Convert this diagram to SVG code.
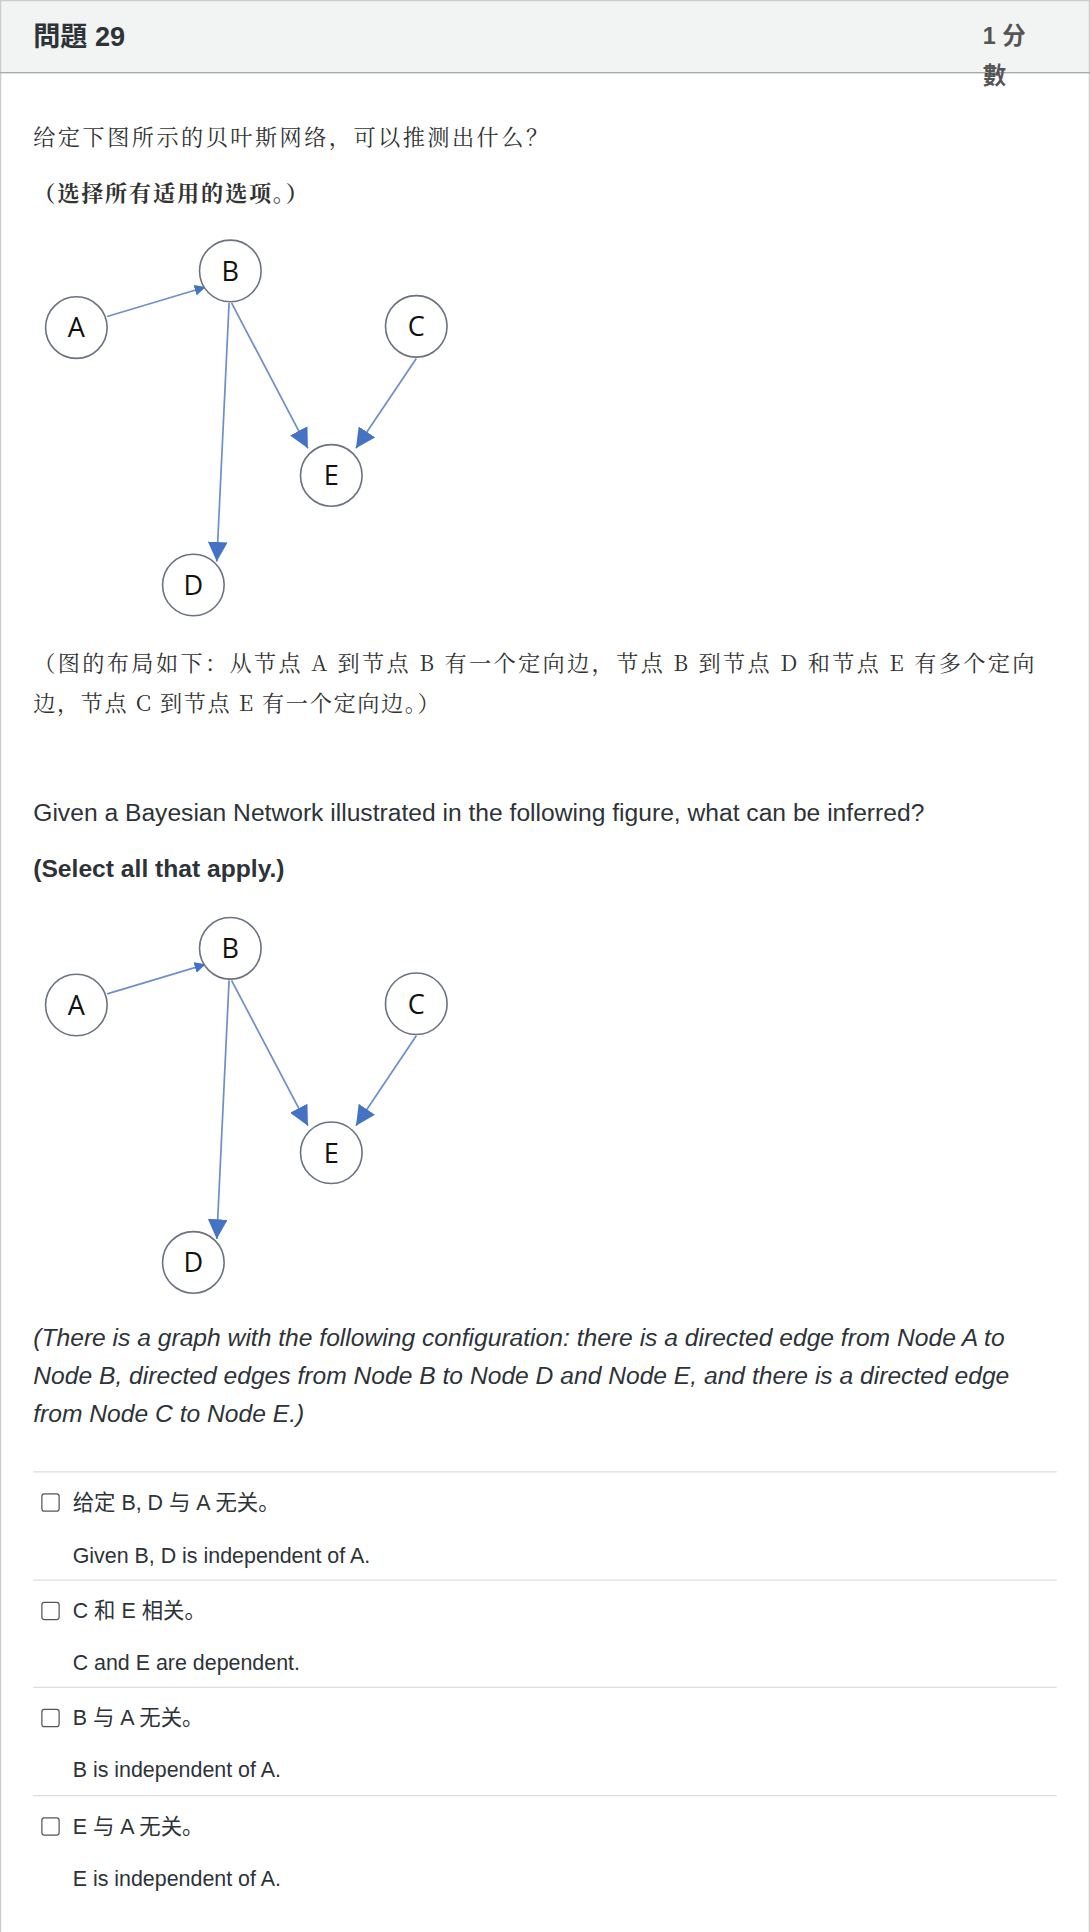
<svg xmlns="http://www.w3.org/2000/svg" width="1090" height="1932" viewBox="0 0 1090 1932">
<style>
.zh{font-family:"Noto Serif CJK SC","Liberation Serif","Noto Sans CJK SC",serif;font-size:18px;fill:#333}
.s{font-family:"Liberation Sans","Noto Sans CJK SC",sans-serif;fill:#2d3338}
.en{font-size:20px}
.opt{font-size:17.4px}
.node circle{fill:#fff;stroke:#6b7280;stroke-width:1.3}
.node text{font-family:"Open Sans","Liberation Sans",sans-serif;font-size:22px;fill:#111;text-anchor:middle}
.edge{stroke:#6f8fc7;stroke-width:1.4;fill:none}
.sep{stroke:#ddd;stroke-width:1}
.cb{fill:#fff;stroke:#555;stroke-width:1}
</style>
<defs>
<marker id="big" viewBox="0 0 10 10" refX="10" refY="5" markerWidth="16" markerHeight="16" markerUnits="userSpaceOnUse" orient="auto"><path d="M0,0L10,5L0,10z" fill="#4472c4"/></marker>
<marker id="sm" viewBox="0 0 10 10" refX="10" refY="5" markerWidth="9" markerHeight="9" markerUnits="userSpaceOnUse" orient="auto"><path d="M0,0L10,5L0,10z" fill="#4472c4"/></marker>
<g id="graph">
<g class="connectors">
<line class="edge" x1="87" y1="257" x2="167" y2="233" marker-end="url(#sm)"/>
<line class="edge" x1="186" y1="246" x2="176" y2="456" marker-end="url(#big)"/>
<line class="edge" x1="188" y1="246" x2="250" y2="364" marker-end="url(#big)"/>
<line class="edge" x1="338" y1="291" x2="289" y2="364" marker-end="url(#big)"/>
</g>
<g class="node"><circle cx="62" cy="266" r="25"/><text x="62" y="274">A</text></g>
<g class="node"><circle cx="187" cy="220" r="25"/><text x="187" y="228">B</text></g>
<g class="node"><circle cx="338" cy="265" r="25"/><text x="338" y="273">C</text></g>
<g class="node"><circle cx="269" cy="386" r="25"/><text x="269" y="394">E</text></g>
<g class="node"><circle cx="157" cy="475" r="25"/><text x="157" y="483">D</text></g>
</g>
</defs>
<g transform="scale(1.2316)">
<rect x="0.5" y="0.5" width="884" height="1570" fill="#fff" stroke="#ccc"/>
<rect x="0.5" y="0.5" width="884" height="58.5" fill="#f2f3f3" stroke="#ccc"/>
<line x1="0" y1="59" x2="885" y2="59" stroke="#aaa"/>
<text class="s" x="27" y="37" font-size="22" font-weight="bold" fill="#2d3338">問題 29</text>
<text class="s" x="798" y="36" font-size="19" font-weight="bold" style="fill:#555">1 分</text>
<text class="s" x="798" y="68" font-size="19" font-weight="bold" style="fill:#555">數</text>
<text class="zh" x="27" y="118" textLength="418" lengthAdjust="spacing">给定下图所示的贝叶斯网络，可以推测出什么？</text>
<text class="zh" x="27" y="163" font-weight="bold" textLength="223" lengthAdjust="spacing">（选择所有适用的选项。）</text>
<g id="graph1"><use href="#graph"/></g>
<text class="zh" x="27" y="545" textLength="813" lengthAdjust="spacing">（图的布局如下：从节点 A 到节点 B 有一个定向边，节点 B 到节点 D 和节点 E 有多个定向</text>
<text class="zh" x="27" y="577" textLength="330" lengthAdjust="spacing">边，节点 C 到节点 E 有一个定向边。）</text>
<text class="s en" x="27" y="667">Given a Bayesian Network illustrated in the following figure, what can be inferred?</text>
<text class="s en" x="27" y="712" font-weight="bold">(Select all that apply.)</text>
<g id="graph2"><use href="#graph" y="550"/></g>
<text class="s en" x="27" y="1093" font-style="italic">(There is a graph with the following configuration: there is a directed edge from Node A to</text>
<text class="s en" x="27" y="1124" font-style="italic">Node B, directed edges from Node B to Node D and Node E, and there is a directed edge</text>
<text class="s en" x="27" y="1155" font-style="italic">from Node C to Node E.)</text>
<line class="sep" x1="27" y1="1195" x2="858" y2="1195"/>
<line class="sep" x1="27" y1="1283" x2="858" y2="1283"/>
<line class="sep" x1="27" y1="1370" x2="858" y2="1370"/>
<line class="sep" x1="27" y1="1458" x2="858" y2="1458"/>
<g id="opt1"><rect class="cb" x="34" y="1213" width="14" height="14" rx="2"/><text class="s opt" x="59" y="1226">给定 B, D 与 A 无关。</text><text class="s opt" x="59" y="1269">Given B, D is independent of A.</text></g>
<g id="opt2"><rect class="cb" x="34" y="1301" width="14" height="14" rx="2"/><text class="s opt" x="59" y="1314">C 和 E 相关。</text><text class="s opt" x="59" y="1356">C and E are dependent.</text></g>
<g id="opt3"><rect class="cb" x="34" y="1388" width="14" height="14" rx="2"/><text class="s opt" x="59" y="1401">B 与 A 无关。</text><text class="s opt" x="59" y="1443">B is independent of A.</text></g>
<g id="opt4"><rect class="cb" x="34" y="1476" width="14" height="14" rx="2"/><text class="s opt" x="59" y="1489">E 与 A 无关。</text><text class="s opt" x="59" y="1531">E is independent of A.</text></g>
</g>
</svg>
